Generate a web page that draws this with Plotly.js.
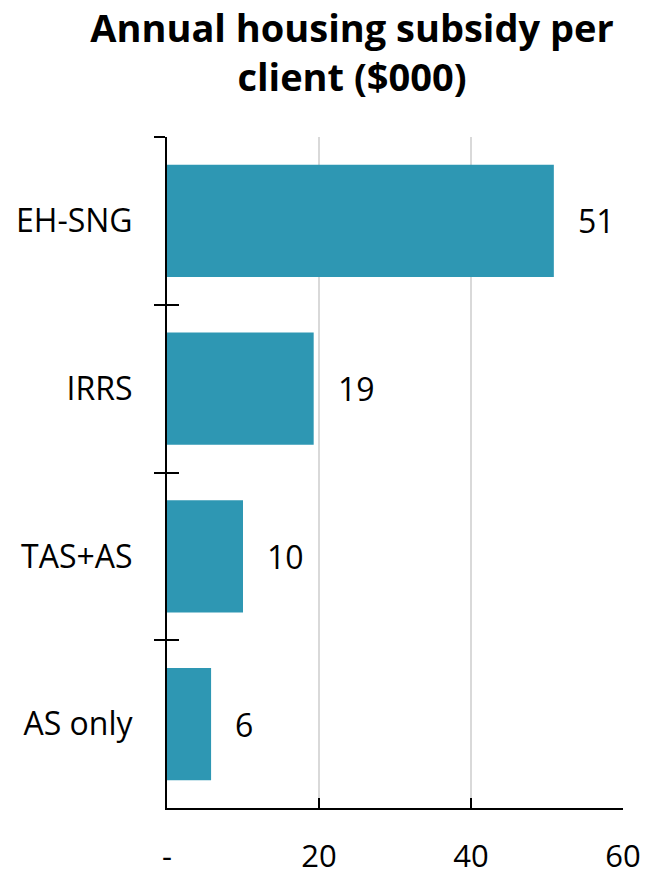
<!DOCTYPE html>
<html>
<head>
<meta charset="utf-8">
<script src="https://cdn.plot.ly/plotly-3.0.1.min.js"></script>
<style>html,body{margin:0;padding:0;background:#fff;}#chart{width:646px;height:870px;}</style>
</head>
<body>
<div id="chart"></div>
<script>
const categories = ["EH-SNG", "IRRS", "TAS+AS", "AS only"];
const values = [50.9, 19.3, 10.0, 5.8];
const xTickVals = [0, 20, 40, 60];
const xTickText = ["-", "20", "40", "60"];
const titleText = "Annual housing subsidy per<br>client ($000)";

const barColor = "#2E97B3";
const font = "Open Sans";

const traces = [
  {
    type: "bar", orientation: "h",
    x: values, y: categories,
    marker: {color: barColor},
    hoverinfo: "skip", showlegend: false
  },
  {
    type: "bar", orientation: "h",
    x: values, y: categories, yaxis: "y2",
    marker: {color: "rgba(0,0,0,0)"},
    hoverinfo: "skip", showlegend: false
  }
];

const annotations = values.map((v, i) => ({
  x: v, y: categories[i], xref: "x", yref: "y",
  text: String(Math.round(v)), showarrow: false,
  xanchor: "left", yanchor: "middle", xshift: 22,
  font: {family: font, size: 32, color: "#000"}
}));

const layout = {
  width: 646, height: 870,
  margin: {l: 167, r: 23, t: 137, b: 62},
  paper_bgcolor: "#fff", plot_bgcolor: "#fff",
  font: {family: font, color: "#000"},
  bargap: 0.33,
  title: {
    text: titleText, x: 352/646, xref: "container", xanchor: "center",
    y: 1, yref: "container", yanchor: "top", pad: {t: 42},
    font: {family: font, size: 38, weight: "bold", color: "#000"}
  },
  xaxis: {
    range: [0, 60], tickmode: "array", tickvals: xTickVals, ticktext: xTickText,
    ticks: "inside", ticklen: 10, tickwidth: 2, tickcolor: "#000",
    showline: true, linecolor: "#000", linewidth: 2,
    showgrid: true, gridcolor: "#d9d9d9", gridwidth: 2, zeroline: false,
    tickfont: {family: font, size: 31, color: "#000"},
    ticklabelstandoff: 20, fixedrange: true
  },
  yaxis: {
    type: "category", categoryorder: "array", categoryarray: categories,
    autorange: "reversed", tickson: "boundaries",
    ticks: "outside", ticklen: 11, tickwidth: 2, tickcolor: "#000",
    showline: true, linecolor: "#000", linewidth: 2,
    showgrid: false, zeroline: false,
    tickfont: {family: font, size: 32, color: "#000"},
    ticklabelstandoff: 26, fixedrange: true
  },
  yaxis2: {
    type: "category", categoryorder: "array", categoryarray: categories,
    autorange: "reversed", overlaying: "y", side: "left", tickson: "boundaries",
    ticks: "inside", ticklen: 12, tickwidth: 2, tickcolor: "#000",
    showticklabels: false, showline: false, showgrid: false, zeroline: false,
    fixedrange: true
  },
  annotations: annotations
};

Plotly.newPlot("chart", traces, layout, {staticPlot: true, displayModeBar: false});
</script>
</body>
</html>
